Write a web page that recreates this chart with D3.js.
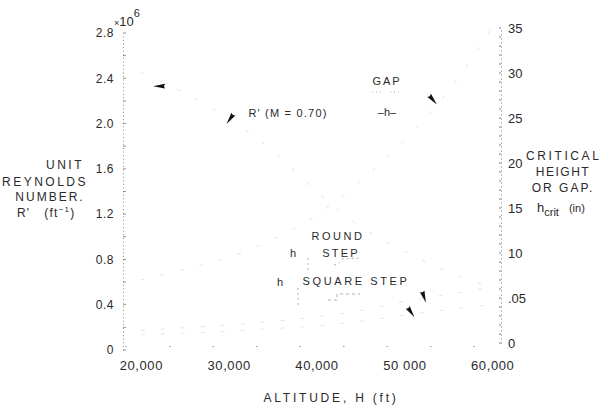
<!DOCTYPE html>
<html><head><meta charset="utf-8">
<script src="https://cdn.jsdelivr.net/npm/d3@7"></script>
<style>
body{margin:0;background:#fff}
svg{display:block}
text{font-family:"Liberation Sans",Arial,sans-serif;fill:#2a2a2a}
</style>
</head><body><svg id="c" width="607" height="406"></svg>
<script>
// ---- data ----
const altitudes = [20000, 25000, 30000, 35000, 40000, 45000, 50000, 55000, 60000];
const reynoldsM070 = [2.45, 2.27, 2.04, 1.76, 1.40, 1.09, 0.87, 0.69, 0.55];      // x10^6 per ft
const gapHcrit = [0.070, 0.082, 0.095, 0.115, 0.142, 0.180, 0.225, 0.280, 0.350];  // in
const roundStepHcrit = [0.014, 0.017, 0.020, 0.024, 0.029, 0.036, 0.046, 0.054, 0.062];
const squareStepHcrit = [0.009, 0.011, 0.013, 0.016, 0.019, 0.024, 0.031, 0.037, 0.043];

const xTicks = [20000, 30000, 40000, 50000, 60000];
const xTickLabels = ["20,000", "30,000", "40,000", "50 000", "60,000"];
const leftTicks = [0, 0.4, 0.8, 1.2, 1.6, 2.0, 2.4, 2.8];
const leftTickLabels = ["0", "0.4", "0.8", "1.2", "1.6", "2.0", "2.4", "2.8"];
const rightTicks = [0, 0.05, 0.10, 0.15, 0.20, 0.25, 0.30, 0.35];
const rightTickLabels = ["0", ".05", "10", "15", "20", "25", "30", "35"];

// arrow pointers placed on the curves
const arrowAlt = [22070, 30150, 53260, 52240, 50760];
const arrowVal = [2.33, 2.04, 0.27, 0.051, 0.034];
const arrowAxis = ["left", "left", "right", "right", "right"];
const arrowAngle = [180, 125, 50, 72, 56];

// ---- layout ----
const svg = d3.select("#c");
const x = d3.scaleLinear().domain([18200, 61000]).range([125, 501]);
const yL = d3.scaleLinear().domain([0, 2.8]).range([350, 33]);
const yR = d3.scaleLinear().domain([0, 0.35]).range([343, 28]);
const baseY = 346;
const FF = "Liberation Sans, Arial, sans-serif";

// left axis
const gL = svg.append("g").attr("transform", "translate(123,0)")
  .call(d3.axisLeft(yL).tickValues(leftTicks).tickFormat((d, i) => leftTickLabels[i])
    .tickSize(0).tickPadding(9));
gL.select(".domain").attr("stroke", "#888").attr("stroke-dasharray", "1,2.6");
gL.selectAll("text").attr("font-size", 12).attr("font-family", FF).attr("fill", "#2a2a2a").attr("letter-spacing", 0.5);
gL.selectAll(".minor").data(d3.range(0, 2.81, 0.2)).join("line")
  .attr("x1", 0).attr("x2", 3).attr("y1", d => yL(d)).attr("y2", d => yL(d))
  .attr("stroke", "#777").attr("stroke-width", 0.8);

// right axis
const gR = svg.append("g").attr("transform", "translate(501,0)")
  .call(d3.axisRight(yR).tickValues(rightTicks).tickFormat((d, i) => rightTickLabels[i])
    .tickSize(0).tickPadding(7));
gR.select(".domain").attr("stroke", "#777").attr("stroke-dasharray", "1,3");
gR.selectAll("text").attr("font-size", 13).attr("font-family", FF).attr("fill", "#2a2a2a");
gR.selectAll(".minor").data(d3.range(0, 0.351, 0.01)).join("line")
  .attr("x1", -2).attr("x2", 0).attr("y1", d => yR(d)).attr("y2", d => yR(d))
  .attr("stroke", "#666").attr("stroke-width", 0.8);

// bottom axis
const gB = svg.append("g").attr("transform", `translate(0,${baseY})`)
  .call(d3.axisBottom(x).tickValues(xTicks).tickFormat((d, i) => xTickLabels[i])
    .tickSize(0).tickPadding(15));
gB.select(".domain").attr("stroke", "#999").attr("stroke-dasharray", "1.5,42");
gB.selectAll("text").attr("font-size", 13).attr("font-family", FF).attr("fill", "#2a2a2a").attr("letter-spacing", 0.6);

// ---- curves (almost entirely faded in the reference scan) ----
const mk = (vals, sc) => d3.line().x((d, i) => x(altitudes[i])).y(d => sc(d)).curve(d3.curveMonotoneX)(vals);
const curves = [[reynoldsM070, yL], [gapHcrit, yR], [roundStepHcrit, yR], [squareStepHcrit, yR]];
svg.append("g").selectAll("path").data(curves).join("path")
  .attr("d", d => mk(d[0], d[1]))
  .attr("fill", "none").attr("stroke", "#dcdcdc").attr("stroke-width", 0.8)
  .attr("stroke-dasharray", "4,16");

// ---- arrow pointers ----
svg.append("g").selectAll("path").data(arrowAlt).join("path")
  .attr("d", "M0,0 L-12,-2.4 L-11,0 L-12,2.4 Z")
  .attr("fill", "#111")
  .attr("transform", (d, i) => {
    const sc = arrowAxis[i] === "left" ? yL : yR;
    return `translate(${x(d)},${sc(arrowVal[i])}) rotate(${arrowAngle[i]}) translate(6,0)`;
  });

// ---- text ----
function t(txt, px, py, opts = {}) {
  return svg.append("text").attr("x", px).attr("y", py)
    .attr("font-size", opts.size || 11)
    .attr("text-anchor", opts.anchor || "start")
    .attr("letter-spacing", opts.ls || 0)
    .text(txt);
}
// x10^6
const m = svg.append("text").attr("x", 114).attr("y", 26).attr("font-size", 13);
m.append("tspan").attr("font-size", 9).text("×");
m.append("tspan").text("10");
m.append("tspan").attr("dy", -9).attr("font-size", 11).text("6");

// left title
t("UNIT", 65, 169, {anchor: "middle", size: 12, ls: 2.5});
t("REYNOLDS", 45, 186, {anchor: "middle", size: 12, ls: 2.5});
t("NUMBER.", 50, 201, {anchor: "middle", size: 12, ls: 2});
const rp = svg.append("text").attr("x", 17).attr("y", 217).attr("font-size", 12).attr("letter-spacing", 1.2);
rp.append("tspan").text("R'");
rp.append("tspan").attr("dx", 14).text("(ft");
rp.append("tspan").attr("dy", -5).attr("font-size", 8).text("−1");
rp.append("tspan").attr("dy", 5).text(")");

// right title
t("CRITICAL", 526, 160, {size: 12, ls: 2.6});
t("HEIGHT", 563, 176, {anchor: "middle", size: 12, ls: 1.5});
t("OR GAP.", 563, 192, {anchor: "middle", size: 12, ls: 2});
const hc = svg.append("text").attr("x", 537).attr("y", 212).attr("font-size", 13);
hc.append("tspan").text("h");
hc.append("tspan").attr("dy", 4).attr("font-size", 11).text("crit");
hc.append("tspan").attr("dy", -4).attr("dx", 10).attr("font-size", 11).text("(in)");

// x title
t("ALTITUDE, H  (ft)", 331, 402, {anchor: "middle", size: 12, ls: 2.8});

// annotations
t("GAP", 387, 85, {anchor: "middle", size: 11, ls: 2});
t("–h–", 387, 116, {anchor: "middle", size: 11});
t("R' (M = 0.70)", 288, 117, {anchor: "middle", size: 11, ls: 1.2});
t("ROUND", 338, 240, {anchor: "middle", size: 11, ls: 2.5});
t("STEP", 341, 257, {anchor: "middle", size: 11, ls: 2.2});
t("h", 293, 257, {anchor: "middle", size: 11});
t("SQUARE STEP", 356, 285, {anchor: "middle", size: 11, ls: 2.6});
t("h", 280, 286, {anchor: "middle", size: 11});

// small step sketches (faint)
const faint = svg.append("g").attr("fill", "none").attr("stroke", "#999").attr("stroke-width", 0.8);
faint.append("line").attr("x1", 308).attr("x2", 308).attr("y1", 258).attr("y2", 272).attr("stroke-dasharray", "2,3");
faint.append("line").attr("x1", 298).attr("x2", 298).attr("y1", 288).attr("y2", 307).attr("stroke-dasharray", "2,3");
faint.append("path").attr("d", "M334,265 Q340,264 342,259 L360,258").attr("stroke-dasharray", "2,3");
faint.append("path").attr("d", "M328,300 L337,300 L337,294 L360,294").attr("stroke-dasharray", "3,3");
faint.append("path").attr("d", "M372,92 L382,92 M390,92 L400,92").attr("stroke-dasharray", "1,3");
</script>
</body></html>
